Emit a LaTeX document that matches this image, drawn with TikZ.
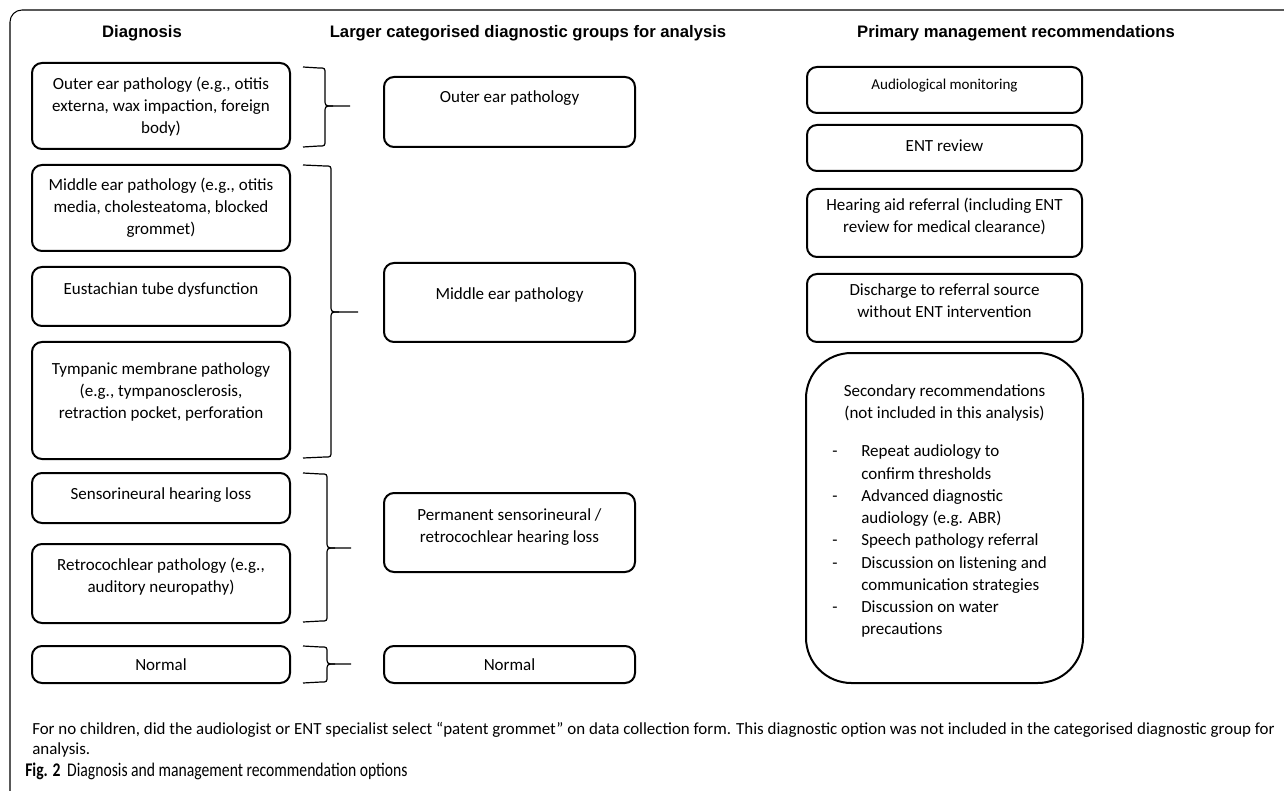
\documentclass[tikz,border=0pt]{standalone}
\usepackage{fontspec}
\setmainfont{Carlito}
\newfontfamily\hdfont{Liberation Sans}
\newfontfamily\capfont[FakeStretch=0.81]{Carlito}
\usetikzlibrary{fit}
\newcommand\mybrace[6]{%
 \draw[bracestroke] (#1,#3) -- ({#2-6},{#3+1}) .. controls (#2,{#3+1}) .. (#2,{#3+7}) -- (#2,{#4-7}) .. controls (#2,#4) .. ({#2+8},#4) -- (#6,#4);
 \draw[bracestroke] (#1,#5) -- ({#2-6},{#5-1}) .. controls (#2,{#5-1}) .. (#2,{#5-7}) -- (#2,{#4+7}) .. controls (#2,#4) .. ({#2+8},#4);
}
\begin{document}
\begin{tikzpicture}[x=0.75pt,y=-0.75pt,
 box/.style={draw, line width=1.5pt, rounded corners=7.5pt, inner sep=0pt},
 txt/.style={align=center, inner sep=0pt, font=\fontsize{12.75pt}{16.5pt}\selectfont},
 smalltxt/.style={align=center, inner sep=0pt, font=\fontsize{11.3pt}{15pt}\selectfont},
 hd/.style={inner sep=0pt, font=\hdfont\bfseries\fontsize{12.5pt}{15pt}\selectfont},
 note/.style={anchor=west, inner sep=0pt, font=\fontsize{12.7pt}{15pt}\selectfont},
 captext/.style={anchor=west, inner sep=0pt, font=\capfont\fontsize{14.5pt}{17pt}\selectfont},
 bracestroke/.style={line width=0.9pt}]
\useasboundingbox (0,0) rectangle (1284,791);
\begin{scope}
\clip (0,0) rectangle (1284,791);
\draw[line width=0.8pt, rounded corners=9pt] (10,10) rectangle (1330,806);
\end{scope}

% headers
\node[hd] (h1) at (142,33) {Diagnosis};
\node[hd] (h2) at (528,33) {Larger categorised diagnostic groups for analysis};
\node[hd] (h3) at (1016,33) {Primary management recommendations};

% left column
\node[box, fit={(32,63)(290,149)}] (d1) {};
\node[txt] (d1t) at (161,107) {Outer ear pathology (e.g., otitis\\externa, wax impaction, foreign\\body)};
\node[box, fit={(32,165)(290,251)}] (d2) {};
\node[txt] (d2t) at (161,208) {Middle ear pathology (e.g., otitis\\media, cholesteatoma, blocked\\grommet)};
\node[box, fit={(32,267)(290,326)}] (d3) {};
\node[txt] (d3t) at (161,290) {Eustachian tube dysfunction};
\node[box, fit={(32,342)(290,459)}] (d4) {};
\node[txt] (d4t) at (161,392) {Tympanic membrane pathology\\(e.g., tympanosclerosis,\\retraction pocket, perforation};
\node[box, fit={(32,473)(290,523)}] (d5) {};
\node[txt] (d5t) at (161,495) {Sensorineural hearing loss};
\node[box, fit={(32,544)(290,623)}] (d6) {};
\node[txt] (d6t) at (161,577) {Retrocochlear pathology (e.g.,\\auditory neuropathy)};
\node[box, fit={(32,646)(290,683)}] (d7) {};
\node[txt] (d7t) at (161,665) {Normal};

% braces
\mybrace{303}{325}{67}{106}{147}{350}
\mybrace{303}{331}{165}{312}{458}{358}
\mybrace{303}{327}{473}{548}{622}{351}
\mybrace{303}{327}{646}{664}{683}{351}

% middle column
\node[box, fit={(384,77)(635,147)}] (g1) {};
\node[txt] (g1t) at (509.5,98) {Outer ear pathology};
\node[box, fit={(384,263)(635,342)}] (g2) {};
\node[txt] (g2t) at (509.5,295) {Middle ear pathology};
\node[box, fit={(384,493)(635,572)}] (g3) {};
\node[txt] (g3t) at (509.5,527.5) {Permanent sensorineural /\\retrocochlear hearing loss};
\node[box, fit={(384,646)(635,683)}] (g4) {};
\node[txt] (g4t) at (509.5,665) {Normal};

% right column
\node[box, fit={(807,67)(1082,113)}] (r1) {};
\node[smalltxt] (r1t) at (944.5,86) {Audiological monitoring};
\node[box, fit={(807,125)(1082,171)}] (r2) {};
\node[txt] (r2t) at (944.5,146) {ENT review};
\node[box, fit={(807,189)(1082,257)}] (r3) {};
\node[txt] (r3t) at (944.5,216.5) {Hearing aid referral (including ENT\\review for medical clearance)};
\node[box, fit={(807,274)(1082,342)}] (r4) {};
\node[txt] (r4t) at (944.5,300.5) {Discharge to referral source\\without ENT intervention};
\node[box, rounded corners=34pt, fit={(806,353)(1083,683)}] (r5) {};
\node[txt] (r5t) at (944.5,402.5) {Secondary recommendations\\(not included in this analysis)};
\node[anchor=north west, inner sep=0pt, font=\fontsize{12.75pt}{16.7pt}\selectfont] (r5l) at (832,441) {%
\begin{tabular}{@{}p{21.75pt}@{}l@{}}
- & Repeat audiology to\\
  & confirm thresholds\\
- & Advanced diagnostic\\
  & audiology (e.g. ABR)\\
- & Speech pathology referral\\
- & Discussion on listening and\\
  & communication strategies\\
- & Discussion on water\\
  & precautions
\end{tabular}};

% notes and caption
\node[note] (n1) at (32,730) {For no children, did the audiologist or ENT specialist select “patent grommet” on data collection form. This diagnostic option was not included in the categorised diagnostic group for};
\node[note] (n2) at (32,750) {analysis.};
\node[captext] (cap) at (25,771) {\textbf{Fig. 2}\hspace{5pt}Diagnosis and management recommendation options};
\end{tikzpicture}
\end{document}
